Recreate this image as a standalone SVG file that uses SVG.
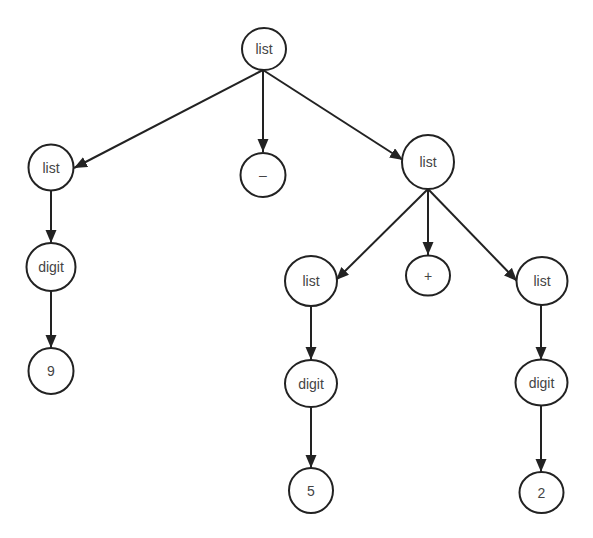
<svg xmlns="http://www.w3.org/2000/svg" width="593" height="538" viewBox="0 0 593 538">
<defs>
<marker id="arr" markerUnits="userSpaceOnUse" markerWidth="14" markerHeight="12" refX="13" refY="5.5" orient="auto">
<path d="M0,0 L13,5.5 L0,11 z" fill="#222"/>
</marker>
<style>
.n ellipse{fill:#fff;stroke:#222;stroke-width:2}
.n text{font-family:"Liberation Sans",Arial,sans-serif;font-size:14px;fill:#444;text-anchor:middle;dominant-baseline:central}
#edges line{stroke:#222;stroke-width:2;marker-end:url(#arr)}
</style>
</defs>
<rect width="593" height="538" fill="#fff"/>
<g id="edges">
<line x1="263" y1="70" x2="74" y2="168"/>
<line x1="263" y1="70" x2="263" y2="152"/>
<line x1="263" y1="70" x2="403" y2="160"/>
<line x1="51" y1="191" x2="51" y2="243"/>
<line x1="51" y1="291" x2="51" y2="348"/>
<line x1="428" y1="189" x2="336" y2="280"/>
<line x1="428" y1="189" x2="428" y2="255"/>
<line x1="428" y1="189" x2="517" y2="281"/>
<line x1="311" y1="307" x2="311" y2="360"/>
<line x1="311" y1="407" x2="311" y2="468"/>
<line x1="541" y1="305" x2="541" y2="360"/>
<line x1="541" y1="405" x2="541" y2="472"/>
</g>
<g id="n_list_top" class="n"><ellipse cx="264" cy="49" rx="22" ry="21"/><text x="264" y="49">list</text></g>
<g id="n_list_l" class="n"><ellipse cx="51" cy="167.5" rx="22.5" ry="23"/><text x="51" y="167.5">list</text></g>
<g id="n_minus" class="n"><ellipse cx="263" cy="175" rx="22.5" ry="22"/><text x="263" y="175">–</text></g>
<g id="n_list_r" class="n"><ellipse cx="428" cy="162" rx="26" ry="27"/><text x="428" y="162">list</text></g>
<g id="n_digit_l" class="n"><ellipse cx="51" cy="267" rx="24.5" ry="24"/><text x="51" y="267">digit</text></g>
<g id="n_9" class="n"><ellipse cx="51" cy="371" rx="22.5" ry="23"/><text x="51" y="371">9</text></g>
<g id="n_list_m" class="n"><ellipse cx="311" cy="281" rx="26" ry="25"/><text x="311" y="281">list</text></g>
<g id="n_plus" class="n"><ellipse cx="428" cy="275.5" rx="22" ry="20"/><text x="428" y="275.5">+</text></g>
<g id="n_list_r2" class="n"><ellipse cx="542" cy="281" rx="25.5" ry="24"/><text x="542" y="281">list</text></g>
<g id="n_digit_m" class="n"><ellipse cx="311" cy="383.5" rx="26" ry="23.5"/><text x="311" y="383.5">digit</text></g>
<g id="n_digit_r" class="n"><ellipse cx="541.5" cy="382.5" rx="26" ry="23"/><text x="541.5" y="382.5">digit</text></g>
<g id="n_5" class="n"><ellipse cx="311" cy="490.5" rx="22" ry="22.5"/><text x="311" y="490.5">5</text></g>
<g id="n_2" class="n"><ellipse cx="541.5" cy="492.5" rx="22" ry="20.5"/><text x="541.5" y="492.5">2</text></g>
</svg>
